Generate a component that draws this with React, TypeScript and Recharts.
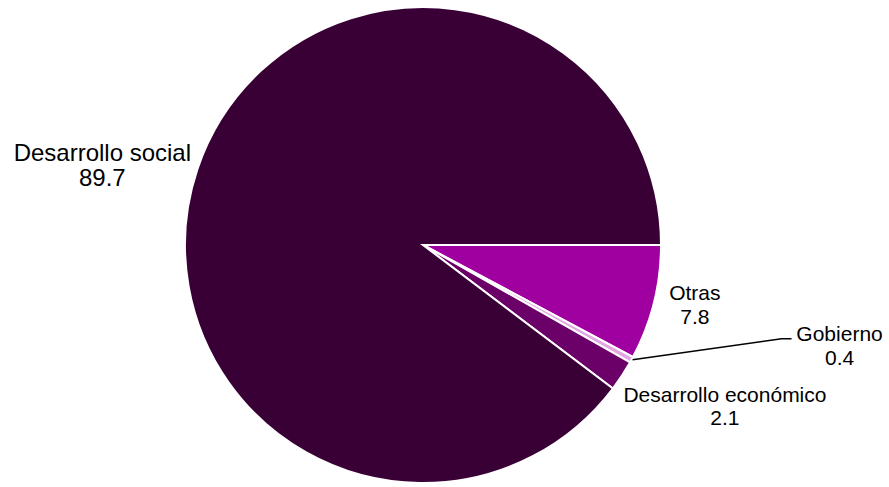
import React from 'react';
import { PieChart, Pie, Cell } from 'recharts';

const names = ['Otras', 'Gobierno', 'Desarrollo económico', 'Desarrollo social'];
const values = [7.8, 0.4, 2.1, 89.7];
const colors = ['#a000a0', '#e2a6e2', '#6a0068', '#390036'];

const data = names.map((name, i) => ({ name, value: values[i] }));

const RADIAN = Math.PI / 180;

// label nudges relative to the slice's outer-edge midpoint
const labelOffsets: Record<string, { dx: number; dy: number; size: number; lh: number }> = {
  Otras: { dx: 41, dy: -3, size: 21, lh: 24 },
  Gobierno: { dx: 208, dy: -19, size: 21, lh: 24 },
  'Desarrollo económico': { dx: 103, dy: 26, size: 21, lh: 23 },
  'Desarrollo social': { dx: -95, dy: -8, size: 24, lh: 25 },
};

const renderLabel = (props: any) => {
  const { cx, cy, midAngle, outerRadius, name, value } = props;
  const ex = cx + outerRadius * Math.cos(-midAngle * RADIAN);
  const ey = cy + outerRadius * Math.sin(-midAngle * RADIAN);
  const o = labelOffsets[name];
  const x = ex + o.dx;
  const y = ey + o.dy;
  return (
    <g key={name}>
      {name === 'Gobierno' && (
        <polyline
          points={`${ex + 1},${ey} ${x - 58},${y - 2} ${x - 48},${y - 2}`}
          fill="none"
          stroke="#000"
          strokeWidth={1.5}
        />
      )}
      <text
        x={x}
        y={y}
        textAnchor="middle"
        fill="#000"
        fontSize={o.size}
        fontFamily="'Liberation Sans', Arial, sans-serif"
      >
        {name}
      </text>
      <text
        x={x}
        y={y + o.lh}
        textAnchor="middle"
        fill="#000"
        fontSize={o.size}
        fontFamily="'Liberation Sans', Arial, sans-serif"
      >
        {value.toFixed(1)}
      </text>
    </g>
  );
};

export default function App() {
  return (
    <div style={{ position: 'absolute', left: 0, top: 0, width: 889, height: 487, background: '#fff' }}>
      <PieChart width={889} height={487} margin={{ top: 0, right: 0, bottom: 0, left: 0 }}>
        <Pie
          data={data}
          dataKey="value"
          nameKey="name"
          cx={423}
          cy={245}
          outerRadius={238}
          startAngle={0}
          endAngle={-360}
          stroke="#ffffff"
          strokeWidth={2}
          label={renderLabel}
          labelLine={false}
          isAnimationActive={false}
        >
          {data.map((d, i) => (
            <Cell key={d.name} fill={colors[i]} />
          ))}
        </Pie>
      </PieChart>
    </div>
  );
}
